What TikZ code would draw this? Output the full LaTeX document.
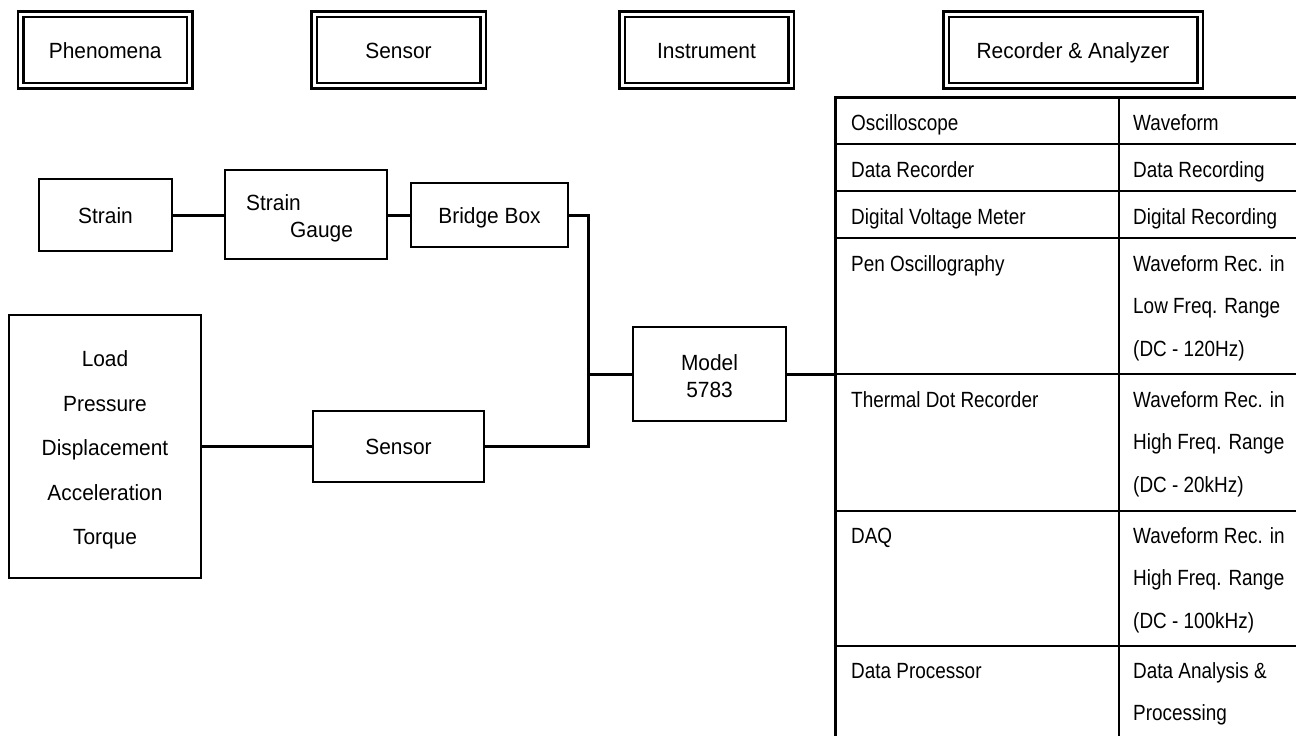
\documentclass[tikz,border=0pt]{standalone}
\usepackage{fontspec}
\setmainfont{Liberation Sans}
\newfontfamily\boxfont{Liberation Sans}[FakeStretch=0.95]
\newfontfamily\tabfont{Liberation Sans}[FakeStretch=0.86]
\begin{document}
\begin{tikzpicture}[x=1pt,y=-1pt,
  hdr/.style={draw, double, line width=2.5pt, double distance=3pt, minimum width=169pt, minimum height=71.5pt, inner sep=0pt, text height=16pt, text depth=0pt, font=\boxfont\fontsize{22}{26}\selectfont},
  blk/.style={draw, line width=2pt, inner sep=0pt, text height=16pt, text depth=0pt, font=\boxfont\fontsize{22}{26}\selectfont},
  lbl/.style={inner sep=0pt, font=\boxfont\fontsize{22}{26}\selectfont},
  tl/.style={inner sep=0pt, anchor=base west, font=\tabfont\fontsize{22}{26}\selectfont},
  wire/.style={line width=3pt},
  gridline/.style={line width=2pt},
  gridedge/.style={line width=3pt}
]
\useasboundingbox (0,0) rectangle (1296,736);

% headers
\node[hdr] (hphen) at (105.25,50) {Phenomena};
\node[hdr] (hsens) at (398.5,50) {Sensor};
\node[hdr] (hinst) at (706.5,50) {Instrument};
\node[hdr, minimum width=254pt] (hrec) at (1073,50) {Recorder \& Analyzer};

% blocks
\node[blk, minimum width=133pt, minimum height=72pt] (strain) at (105.5,215) {Strain};
\node[blk, minimum width=162pt, minimum height=89pt] (sg) at (306,214.5) {};
\node[lbl, anchor=base west] (sg1) at (246,210) {Strain};
\node[lbl, anchor=base west] (sg2) at (290,237) {Gauge};
\node[blk, minimum width=157pt, minimum height=64pt] (bb) at (489.5,215) {Bridge Box};
\node[blk, minimum width=192pt, minimum height=263pt] (load) at (105,446.5) {};
\node[lbl, anchor=base] (l1) at (105,366.5) {Load};
\node[lbl, anchor=base] (l2) at (105,411) {Pressure};
\node[lbl, anchor=base] (l3) at (105,455.5) {Displacement};
\node[lbl, anchor=base] (l4) at (105,500) {Acceleration};
\node[lbl, anchor=base] (l5) at (105,544.5) {Torque};
\node[blk, minimum width=171pt, minimum height=71pt] (sens) at (398.5,446.5) {Sensor};
\node[blk, minimum width=153pt, minimum height=94pt] (model) at (709.5,374) {};
\node[lbl, anchor=base] (m1) at (709.5,370) {Model};
\node[lbl, anchor=base] (m2) at (709.5,397) {5783};

% connectors
\coordinate (bus) at (588,374);
\coordinate (tab) at (835,374);
\draw[wire] (strain.east) -- (strain.east -| sg.west);
\draw[wire] (sg.east |- bb.west) -- (bb.west);
\draw[wire] (bb.east) -| (bus |- sens.east) -- (sens.east);
\draw[wire] (load.east) -- (sens.west);
\draw[wire] (bus) -- (model.west);
\draw[wire] (model.east) -- (tab);

% table
\draw[gridedge] (835,736) -- (835,97) -- (1296,97);
\draw[gridline] (1119,97) -- (1119,736);
\foreach \yy in {144,191,238,374,511,646} \draw[gridline] (835,\yy) -- (1296,\yy);

\node[tl] (t1a) at (851,130) {Oscilloscope};
\node[tl] (t1b) at (1133,130) {Waveform};
\node[tl] (t2a) at (851,177) {Data Recorder};
\node[tl] (t2b) at (1133,177) {Data Recording};
\node[tl] (t3a) at (851,224) {Digital Voltage Meter};
\node[tl] (t3b) at (1133,224) {Digital Recording};
\node[tl] (t4a) at (851,271) {Pen Oscillography};
\node[tl] (t4b) at (1133,271) {Waveform Rec. in};
\node[tl] (t4c) at (1133,313.5) {Low Freq. Range};
\node[tl] (t4d) at (1133,356) {(DC - 120Hz)};
\node[tl] (t5a) at (851,407) {Thermal Dot Recorder};
\node[tl] (t5b) at (1133,407) {Waveform Rec. in};
\node[tl] (t5c) at (1133,449.5) {High Freq. Range};
\node[tl] (t5d) at (1133,492) {(DC - 20kHz)};
\node[tl] (t6a) at (851,543) {DAQ};
\node[tl] (t6b) at (1133,543) {Waveform Rec. in};
\node[tl] (t6c) at (1133,585.5) {High Freq. Range};
\node[tl] (t6d) at (1133,628) {(DC - 100kHz)};
\node[tl] (t7a) at (851,678) {Data Processor};
\node[tl] (t7b) at (1133,678) {Data Analysis \&};
\node[tl] (t7c) at (1133,720.5) {Processing};
\end{tikzpicture}
\end{document}
